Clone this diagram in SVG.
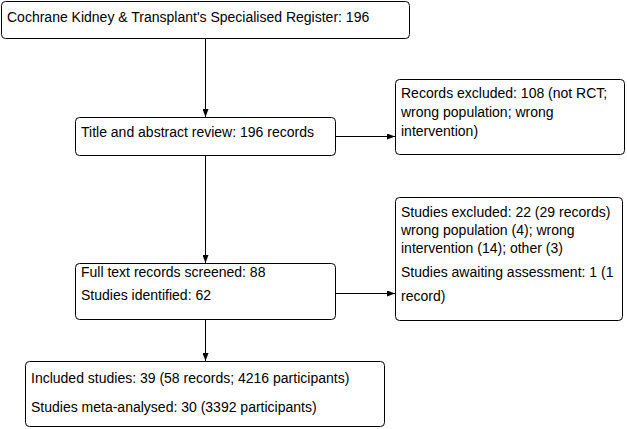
<svg xmlns="http://www.w3.org/2000/svg" width="627" height="429" viewBox="0 0 627 429">
<style>
.box{fill:#fff;stroke:#000;stroke-width:1}
.t{font-family:"Liberation Sans",Arial,sans-serif;font-size:14px;fill:#000}
.c{stroke:#000;stroke-width:1;fill:none;marker-end:url(#ah)}
</style>
<defs>
<marker id="ah" viewBox="0 0 8 6" refX="8" refY="3" markerWidth="8" markerHeight="6" markerUnits="userSpaceOnUse" orient="auto">
<path d="M0,0 L8,3 L0,6 z" fill="#000"/>
</marker>
</defs>
<rect width="627" height="429" fill="#fff"/>
<g id="connectors">
<path class="c" d="M205.5,38 V117"/>
<path class="c" d="M205.5,155 V263"/>
<path class="c" d="M205.5,320 V361"/>
<path class="c" d="M335,136.5 H395"/>
<path class="c" d="M335,293.5 H395"/>
</g>
<g id="n1">
<rect class="box" x="1.5" y="1.5" width="408" height="37" rx="4"/>
<text class="t" x="7" y="22">Cochrane Kidney &amp; Transplant's Specialised Register: 196</text>
</g>
<g id="n2">
<rect class="box" x="75.5" y="117.5" width="260" height="38" rx="4"/>
<text class="t" x="81" y="137">Title and abstract review: 196 records</text>
</g>
<g id="n3">
<rect class="box" x="395.5" y="79.5" width="229" height="75" rx="4"/>
<text class="t" x="401" y="98">Records excluded: 108 (not RCT;</text>
<text class="t" x="401" y="117">wrong population; wrong</text>
<text class="t" x="401" y="136">intervention)</text>
</g>
<g id="n4">
<rect class="box" x="395.5" y="197.5" width="227" height="123" rx="4"/>
<text class="t" x="401" y="217">Studies excluded: 22 (29 records)</text>
<text class="t" x="401" y="235">wrong population (4); wrong</text>
<text class="t" x="401" y="253">intervention (14); other (3)</text>
<text class="t" x="401" y="277">Studies awaiting assessment: 1 (1</text>
<text class="t" x="401" y="301">record)</text>
</g>
<g id="n5">
<rect class="box" x="75.5" y="263.5" width="260" height="56" rx="4"/>
<text class="t" x="81" y="277">Full text records screened: 88</text>
<text class="t" x="81" y="300">Studies identified: 62</text>
</g>
<g id="n6">
<rect class="box" x="25.5" y="361.5" width="359" height="65" rx="4"/>
<text class="t" x="31" y="383">Included studies: 39 (58 records; 4216 participants)</text>
<text class="t" x="31" y="412">Studies meta-analysed: 30 (3392 participants)</text>
</g>
</svg>
